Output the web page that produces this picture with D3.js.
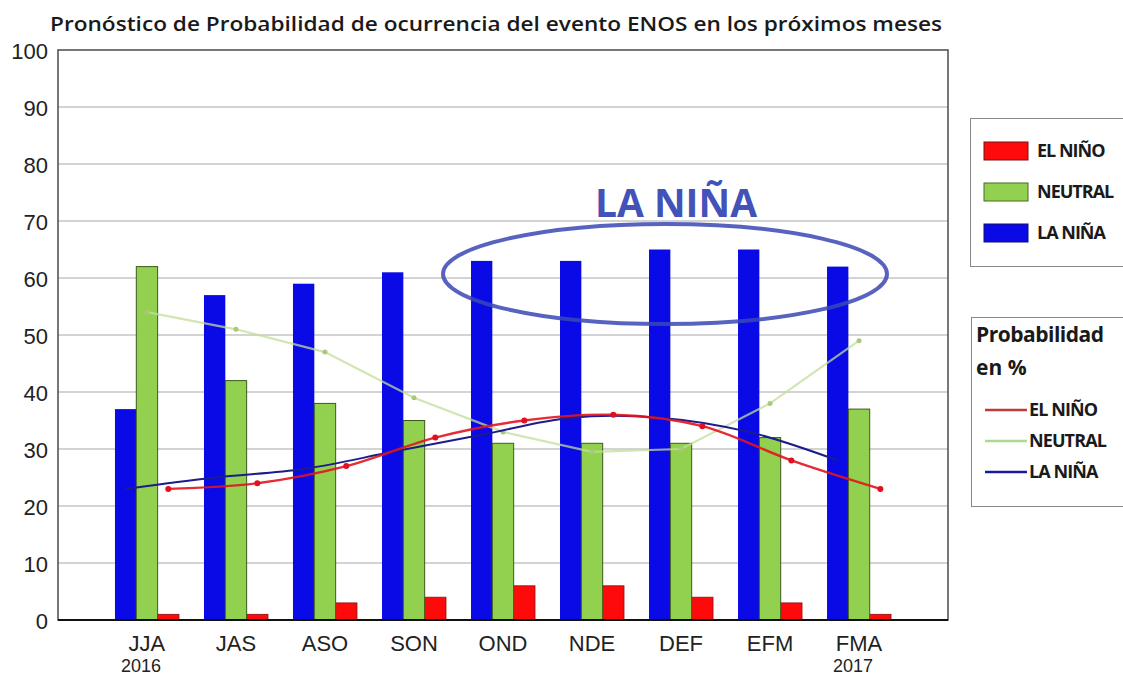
<!DOCTYPE html>
<html><head><meta charset="utf-8">
<script src="https://cdn.jsdelivr.net/npm/d3@7"></script>
<style>body{margin:0;background:#fff} svg{display:block}</style>
</head><body>
<svg id="chart" width="1123" height="675"></svg>
<script>
const categories = ["JJA","JAS","ASO","SON","OND","NDE","DEF","EFM","FMA"];
const yearLabels = ["2016","","","","","","","","2017"];
const laNinaBars = [37,57,59,61,63,63,65,65,62];
const neutralBars = [62,42,38,35,31,31,31,32,37];
const elNinoBars = [1,1,3,4,6,6,4,3,1];
const elNinoLine = [23,24,27,32,35,36,34,28,23];
const neutralLine = [54,51,47,39,33,29.5,30,38,49];
const laNinaLine = [23,25,26.5,29.5,32.5,35.5,35.5,33,28];
const yTicks = [0,10,20,30,40,50,60,70,80,90,100];
const seriesKeys = ["nina","neutral","nino"];
const legendBars = ["EL NIÑO","NEUTRAL","LA NIÑA"];
const legendLines = ["EL NIÑO","NEUTRAL","LA NIÑA"];
const titleText = "Pronóstico de Probabilidad de ocurrencia del evento ENOS en los próximos meses";
const annotationText = "LA NIÑA";

const svg = d3.select("#chart");
const L = 58, R = 948, T = 50, B = 620;
const x = d3.scaleBand(categories, [L, R]).paddingInner(0.281).paddingOuter(0.64);
const xs = d3.scaleBand(seriesKeys, [0, x.bandwidth()]).padding(0);
const y = d3.scaleLinear([0, 100], [B, T]);

const colors = {nina:"#0a0ae6", neutral:"#92d050", nino:"#ff0a0a"};

// gridlines
svg.append("g").selectAll("line").data(yTicks.filter(d => d > 0 && d < 100)).join("line")
  .attr("x1", L).attr("x2", R).attr("y1", d => y(d)).attr("y2", d => y(d))
  .attr("stroke", "#a8a8a8").attr("stroke-width", 1.2);

// bars
const gb = svg.append("g");
gb.selectAll("rect.nina").data(laNinaBars).join("rect").attr("class","nina")
  .attr("x", (d,i) => x(categories[i]) + xs("nina")).attr("width", xs.bandwidth())
  .attr("y", d => y(d)).attr("height", d => B - y(d)).attr("fill", colors.nina);
gb.selectAll("rect.nino").data(elNinoBars).join("rect").attr("class","nino")
  .attr("x", (d,i) => x(categories[i]) + xs("nino") - 3).attr("width", xs.bandwidth() + 3)
  .attr("y", d => y(d)).attr("height", d => B - y(d)).attr("fill", colors.nino)
  .attr("stroke", "#8a1010").attr("stroke-width", 0.8);
gb.selectAll("rect.neutral").data(neutralBars).join("rect").attr("class","neutral")
  .attr("x", (d,i) => x(categories[i]) + xs("neutral")).attr("width", xs.bandwidth())
  .attr("y", d => y(d)).attr("height", d => B - y(d)).attr("fill", colors.neutral)
  .attr("stroke", "#3d5a1a").attr("stroke-width", 1);

// lines
const cx = key => (d,i) => x(categories[i]) + xs(key) + xs.bandwidth()/2;
const gl = svg.append("g");
gl.append("path").datum(neutralLine)
  .attr("d", d3.line().x(cx("neutral")).y(d => y(d)))
  .attr("fill","none").attr("stroke","#c2de98").attr("stroke-width",2.2).attr("opacity",0.75);
gl.selectAll("circle.neu").data(neutralLine).join("circle").attr("class","neu")
  .attr("cx", cx("neutral")).attr("cy", d => y(d)).attr("r", 2.5).attr("fill","#a9c97a");
gl.append("path").datum(laNinaLine)
  .attr("d", d3.line().x(cx("nina")).y(d => y(d)).curve(d3.curveCatmullRom))
  .attr("fill","none").attr("stroke","#1c1c8a").attr("stroke-width",2);
gl.append("path").datum(elNinoLine)
  .attr("d", d3.line().x(cx("nino")).y(d => y(d)).curve(d3.curveCatmullRom))
  .attr("fill","none").attr("stroke","#e3141e").attr("stroke-width",2.4).attr("opacity",0.9);
gl.selectAll("circle.nino").data(elNinoLine).join("circle").attr("class","nino")
  .attr("cx", cx("nino")).attr("cy", d => y(d)).attr("r", 3).attr("fill","#e01020");

// plot frame
svg.append("rect").attr("x", L).attr("y", T).attr("width", R-L).attr("height", B-T)
  .attr("fill","none").attr("stroke","#555").attr("stroke-width",1.6);
svg.append("line").attr("x1", L).attr("x2", R).attr("y1", B).attr("y2", B)
  .attr("stroke","#111").attr("stroke-width",2);

// axes
const ya = svg.append("g").attr("transform", `translate(${L},0)`)
  .call(d3.axisLeft(y).tickValues(yTicks).tickSize(0).tickPadding(10));
ya.select(".domain").remove();
ya.selectAll("text").attr("font-family","'Liberation Sans', Arial, sans-serif")
  .attr("font-size", 22).attr("fill","#222").attr("dy","0.4em");

const xa = svg.append("g").attr("transform", `translate(0,${B})`)
  .call(d3.axisBottom(x).tickSize(0).tickPadding(15));
xa.select(".domain").remove();
xa.selectAll("text").attr("font-family","'Liberation Sans', Arial, sans-serif")
  .attr("font-size", 22).attr("fill","#222");
xa.selectAll(".tick").append("text")
  .text((d,i) => yearLabels[categories.indexOf(d)])
  .attr("y", 52).attr("x", -6).attr("text-anchor","middle")
  .attr("font-family","'Liberation Sans', Arial, sans-serif")
  .attr("font-size", 18).attr("fill","#222");

// title
svg.append("text").text(titleText).attr("x", 50).attr("y", 31)
  .attr("font-family","'Open Sans', sans-serif").attr("font-weight",600)
  .attr("font-size", 20).attr("fill","#1a1a1a")
  .attr("textLength", 892).attr("lengthAdjust","spacingAndGlyphs");

// annotation ellipse
svg.append("ellipse").attr("cx", 665).attr("cy", 274).attr("rx", 222).attr("ry", 50)
  .attr("fill","none").attr("stroke","#3a48b4").attr("stroke-width",4).attr("opacity",0.85);
svg.append("text").text(annotationText).attr("x", 676).attr("y", 217).attr("text-anchor","middle")
  .attr("font-family","'Open Sans', sans-serif").attr("font-weight",700)
  .attr("font-size", 40).attr("fill","#4252b8")
  .attr("textLength", 162).attr("lengthAdjust","spacingAndGlyphs");

// legend 1
const lg1 = svg.append("g");
lg1.append("rect").attr("x", 970.5).attr("y", 118.5).attr("width", 160).attr("height", 148)
  .attr("fill","#fff").attr("stroke","#888").attr("stroke-width",1);
const sw = [colors.nino, colors.neutral, colors.nina];
const swStroke = ["#7a1010","#4a6a22","#10106a"];
legendBars.forEach((t,i) => {
  const cy = 151 + i*41;
  lg1.append("rect").attr("x", 984).attr("y", cy - 9).attr("width", 44).attr("height", 18)
    .attr("fill", sw[i]).attr("stroke", swStroke[i]).attr("stroke-width", 1);
  lg1.append("text").text(t).attr("x", 1037).attr("y", cy).attr("dy","0.36em")
    .attr("font-family","'Open Sans', sans-serif").attr("font-weight",700)
    .attr("font-size", 18).attr("fill","#1a1a1a").attr("letter-spacing", -1);
});

// legend 2
const lg2 = svg.append("g");
lg2.append("rect").attr("x", 971.5).attr("y", 317.5).attr("width", 160).attr("height", 189)
  .attr("fill","#fff").attr("stroke","#888").attr("stroke-width",1);
lg2.append("text").text("Probabilidad").attr("x", 976).attr("y", 342)
  .attr("font-family","'Open Sans', sans-serif").attr("font-weight",700)
  .attr("font-size", 21).attr("fill","#1a1a1a").attr("letter-spacing", -0.5);
lg2.append("text").text("en %").attr("x", 976).attr("y", 375)
  .attr("font-family","'Open Sans', sans-serif").attr("font-weight",700)
  .attr("font-size", 21).attr("fill","#1a1a1a");
const lc = ["#c03a3a","#b0d890","#1a1a9a"];
legendLines.forEach((t,i) => {
  const cy = 410 + i*31;
  lg2.append("line").attr("x1", 985).attr("x2", 1027).attr("y1", cy).attr("y2", cy)
    .attr("stroke", lc[i]).attr("stroke-width", 2.5);
  lg2.append("text").text(t).attr("x", 1029).attr("y", cy).attr("dy","0.36em")
    .attr("font-family","'Open Sans', sans-serif").attr("font-weight",700)
    .attr("font-size", 18).attr("fill","#1a1a1a").attr("letter-spacing", -0.9);
});
</script>
</body></html>
